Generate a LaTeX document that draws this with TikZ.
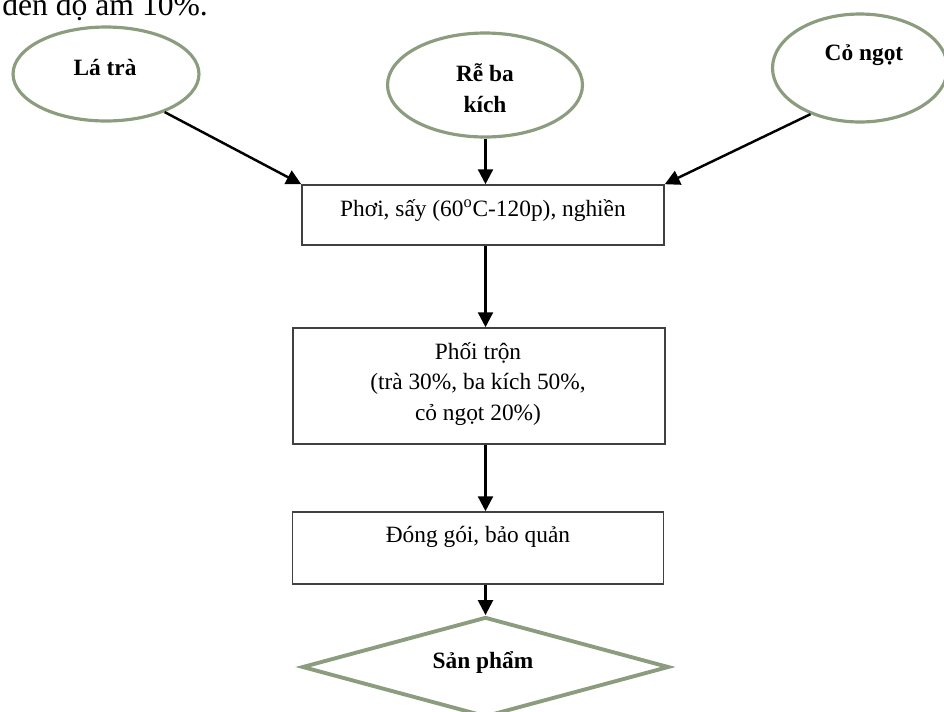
\documentclass[tikz,border=0pt]{standalone}
\usepackage{fontspec}
\setmainfont{Liberation Serif}
\usetikzlibrary{shapes.geometric,arrows.meta,positioning}
\definecolor{sage}{HTML}{8C9C7E}
\definecolor{frame}{HTML}{404040}

\tikzset{
  src/.style={ellipse, draw=sage, line width=1.8pt},
  stage/.style={rectangle, draw=frame, line width=0.9pt},
  txt/.style={font=\fontsize{13.3}{17.4}\selectfont, align=center, inner sep=0pt},
  btxt/.style={txt, font=\fontsize{13.3}{17.4}\selectfont\bfseries},
  flow/.style={line width=1.4pt, -{Triangle[length=8.5pt,width=8.5pt]}}
}

\begin{document}
\begin{tikzpicture}[x=0.02cm, y=-0.02cm]
  \useasboundingbox (0,0) rectangle (944,711);
  \clip (0,0) rectangle (944,711);
  \node[anchor=base west, inner sep=0pt, font=\fontsize{18}{21}\selectfont] (lead) at (2,15) {đến độ ẩm 10\%.};
  \coordinate (spine) at (485.5,0);

  \node[src, minimum width=3.72cm, minimum height=1.88cm] (la) at (106,74) {};
  \node[src, minimum width=3.9cm, minimum height=2.08cm] (rb) at (485,85) {};
  \node[src, minimum width=3.5cm, minimum height=2.16cm] (cg) at (860,68) {};
  \node[btxt] (la-t) at (105,67) {Lá trà};
  \node[btxt] (rb-t) at (485,88) {Rễ ba\\kích};
  \node[btxt] (cg-t) at (864,55) {Cỏ ngọt};

  \node[stage, minimum width=7.24cm, minimum height=1.2cm] (dry) at (483,215) {};
  \node[stage, minimum width=7.44cm, minimum height=2.32cm] (mix) at (479,386) {};
  \node[stage, minimum width=7.42cm, minimum height=1.44cm] (pack) at (478,548) {};
  \node[diamond, draw=sage, line width=2.2pt, minimum width=7.34cm, minimum height=2cm] (prod) at (485.5,667) {};
  \node[txt] (dry-t) at (483,211) {Phơi, sấy (60\textsuperscript{o}C-120p), nghiền};
  \node[txt] (mix-t) at (478,384) {Phối trộn\\(trà 30\%, ba kích 50\%,\\cỏ ngọt 20\%)};
  \node[txt] (pack-t) at (478,537) {Đóng gói, bảo quản};
  \node[btxt] (prod-t) at (483,662) {Sản phẩm};

  \draw[flow] (la.327) -- (dry.north west);
  \draw[flow] (rb.south -| spine) -- (dry.north -| spine);
  \draw[flow] (cg.223) -- (dry.north east);
  \draw[flow] (dry.south -| spine) -- (mix.north -| spine);
  \draw[flow] (mix.south -| spine) -- (pack.north -| spine);
  \draw[flow] (pack.south -| spine) -- (prod.north);
\end{tikzpicture}
\end{document}
